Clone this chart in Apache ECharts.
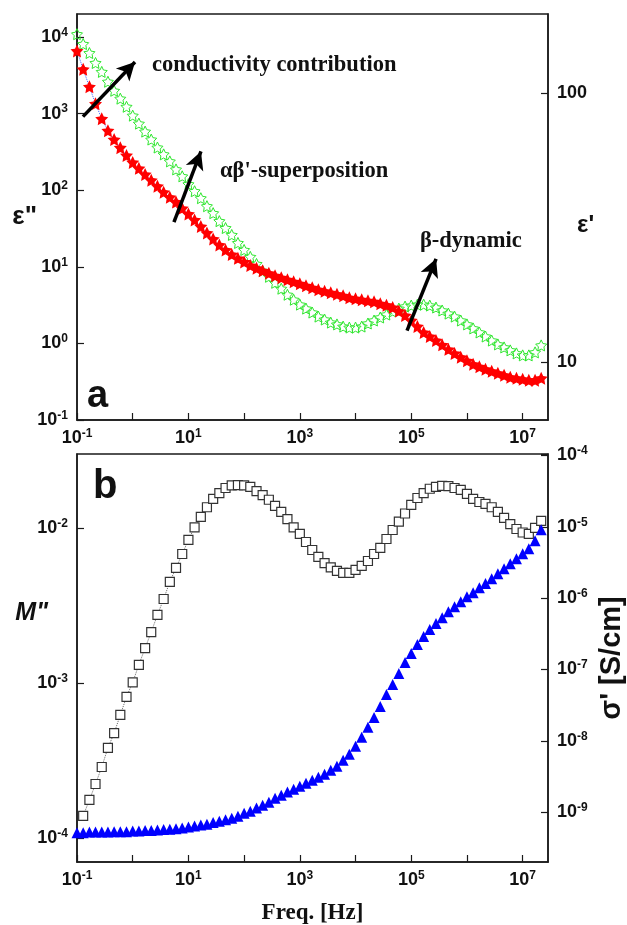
<!DOCTYPE html>
<html>
<head>
<meta charset="utf-8">
<script src="https://cdn.jsdelivr.net/npm/echarts@6/dist/echarts.min.js"></script>
<style>
  html, body { margin: 0; padding: 0; background: #fff; }
  #chart { width: 627px; height: 925px; }
</style>
</head>
<body>
<div id="chart"></div>
<script>
// measured frequencies [Hz]
const freq = [
  0.1, 0.129, 0.167, 0.215, 0.278, 0.359, 0.464, 0.599, 0.774,
  1, 1.29, 1.67, 2.15, 2.78, 3.59, 4.64, 5.99, 7.74,
  10, 12.9, 16.7, 21.5, 27.8, 35.9, 46.4, 59.9, 77.4,
  100, 129, 167, 215, 278, 359, 464, 599, 774,
  1e3, 1.29e3, 1.67e3, 2.15e3, 2.78e3, 3.59e3, 4.64e3, 5.99e3, 7.74e3,
  1e4, 1.29e4, 1.67e4, 2.15e4, 2.78e4, 3.59e4, 4.64e4, 5.99e4, 7.74e4,
  1e5, 1.29e5, 1.67e5, 2.15e5, 2.78e5, 3.59e5, 4.64e5, 5.99e5, 7.74e5,
  1e6, 1.29e6, 1.67e6, 2.15e6, 2.78e6, 3.59e6, 4.64e6, 5.99e6, 7.74e6,
  1e7, 1.29e7, 1.67e7, 2.15e7
]

// panel a: red filled stars
const epsRed = [
  6600, 3800, 2240, 1350, 860, 600, 460, 360, 285,
  231, 193, 161, 135, 113, 94, 81, 70, 58,
  49, 41, 33.6, 27.7, 23.1, 19.3, 16.6, 14.5, 12.9,
  11.6, 10.4, 9.6, 8.87, 8.24, 7.64, 7.19, 6.78, 6.38,
  6.01, 5.66, 5.33, 5.02, 4.81, 4.59, 4.40, 4.20, 3.95,
  3.84, 3.72, 3.61, 3.51, 3.30, 3.16, 2.94, 2.64, 2.31,
  1.99, 1.66, 1.39, 1.23, 1.09, 0.957, 0.836, 0.741, 0.658,
  0.593, 0.533, 0.495, 0.459, 0.433, 0.407, 0.384, 0.361, 0.351,
  0.340, 0.330, 0.330, 0.351
]

// panel a: green open stars
const epsGreen = [
  10900, 8110, 6190, 4590, 3510, 2610, 1990, 1570, 1230,
  942, 741, 583, 459, 361, 294, 238, 187, 152,
  120, 97, 78.7, 61.9, 50.2, 39.5, 32.1, 26.1, 20.5,
  16.6, 13.5, 10.9, 8.87, 7.41, 6.19, 5.18, 4.32, 3.72,
  3.21, 2.85, 2.53, 2.24, 2.05, 1.87, 1.77, 1.66, 1.61,
  1.61, 1.66, 1.82, 1.99, 2.18, 2.38, 2.61, 2.85, 3.03,
  3.12, 3.21, 3.21, 3.12, 2.94, 2.69, 2.45, 2.24, 1.99,
  1.77, 1.57, 1.39, 1.23, 1.09, 0.97, 0.887, 0.811, 0.741,
  0.698, 0.698, 0.764, 0.942
]

// panel b: M'' open squares
const mod2 = [
  null, 1.39e-4, 1.76e-4, 2.23e-4, 2.87e-4, 3.81e-4, 4.75e-4, 6.22e-4, 8.13e-4,
  1.01e-3, 1.31e-3, 1.68e-3, 2.13e-3, 2.75e-3, 3.48e-3, 4.49e-3, 5.52e-3, 6.79e-3,
  8.37e-3, 1.01e-2, 1.18e-2, 1.36e-2, 1.54e-2, 1.68e-2, 1.81e-2, 1.88e-2, 1.89e-2,
  1.88e-2, 1.84e-2, 1.73e-2, 1.63e-2, 1.52e-2, 1.39e-2, 1.27e-2, 1.14e-2, 1.01e-2,
  9.15e-3, 8.12e-3, 7.21e-3, 6.50e-3, 5.94e-3, 5.57e-3, 5.28e-3, 5.13e-3, 5.13e-3,
  5.36e-3, 5.69e-3, 6.12e-3, 6.79e-3, 7.43e-3, 8.49e-3, 9.70e-3, 1.10e-2, 1.24e-2,
  1.41e-2, 1.56e-2, 1.68e-2, 1.79e-2, 1.84e-2, 1.87e-2, 1.86e-2, 1.81e-2, 1.76e-2,
  1.66e-2, 1.54e-2, 1.47e-2, 1.43e-2, 1.36e-2, 1.27e-2, 1.16e-2, 1.06e-2, 9.85e-3,
  9.35e-3, 9.15e-3, 1.00e-2, 1.11e-2
]

// panel b: sigma' blue triangles [S/cm]
const sigma = [
  5.16e-10, 5.16e-10, 5.25e-10, 5.25e-10, 5.25e-10, 5.25e-10, 5.33e-10, 5.33e-10, 5.33e-10,
  5.42e-10, 5.42e-10, 5.51e-10, 5.51e-10, 5.60e-10, 5.69e-10, 5.78e-10, 5.87e-10, 5.97e-10,
  6.17e-10, 6.37e-10, 6.58e-10, 6.79e-10, 7.13e-10, 7.48e-10, 7.85e-10, 8.24e-10, 8.79e-10,
  9.68e-10, 1.03e-9, 1.14e-9, 1.25e-9, 1.38e-9, 1.57e-9, 1.73e-9, 1.91e-9, 2.10e-9,
  2.31e-9, 2.55e-9, 2.81e-9, 3.09e-9, 3.40e-9, 3.86e-9, 4.40e-9, 5.33e-9, 6.47e-9,
  8.38e-9, 1.12e-8, 1.55e-8, 2.13e-8, 3.04e-8, 4.47e-8, 6.17e-8, 8.79e-8, 1.25e-7,
  1.67e-7, 2.24e-7, 2.90e-7, 3.63e-7, 4.40e-7, 5.33e-7, 6.47e-7, 7.60e-7, 8.93e-7,
  1.05e-6, 1.19e-6, 1.40e-6, 1.60e-6, 1.87e-6, 2.20e-6, 2.59e-6, 3.04e-6, 3.57e-6,
  4.19e-6, 4.92e-6, 6.37e-6, 9.08e-6
]

// arrows in panel a, [freq, eps''] tail -> head
const arrows = [
  [[0.128, 914], [1.10, 4730]],
  [[5.5, 38.4], [16.8, 321]],
  [[8.4e4, 1.47], [2.79e5, 12.7]],
]

const SANS = '"Liberation Sans", Arial, sans-serif'
const SERIF = '"Liberation Serif", "Times New Roman", serif'
const STAR = 'path://M0,-10L2.94,-4.05L9.51,-3.09L4.76,1.55L5.88,8.09L0,5L-5.88,8.09L-4.76,1.55L-9.51,-3.09L-2.94,-4.05Z'

const pairs = (ys) => freq.map((f, i) => [f, ys[i]])

const rich = {
  b: { fontSize: 18, fontWeight: 'bold', fontFamily: SANS, color: '#111' },
  s: { fontSize: 12, fontWeight: 'bold', fontFamily: SANS, color: '#111', padding: [0, 0, 9, 0] },
}

function powLabel(step) {
  return (v) => {
    const e = Math.log10(v)
    const r = Math.round(e)
    if (Math.abs(e - r) > 0.02) return ''
    if (step === 2 && Math.abs(r) % 2 === 0) return ''
    return '{b|10}{s|' + r + '}'
  }
}

function plainLabel(v) {
  const e = Math.log10(v)
  if (Math.abs(e - Math.round(e)) > 0.02) return ''
  return String(Math.round(v))
}

const frame = { show: true, lineStyle: { color: '#1a1a1a', width: 1.5 } }
const tick = { show: true, inside: true, length: 7, lineStyle: { color: '#1a1a1a', width: 1.2 } }

function xAxis(gridIndex, withName) {
  return {
    type: 'log', gridIndex, min: 0.1, max: 2.85e7,
    axisLine: frame, axisTick: tick, splitLine: { show: false },
    axisLabel: { formatter: powLabel(2), rich, margin: 8, showMaxLabel: false },
    name: withName ? 'Freq. [Hz]' : '',
    nameLocation: 'middle', nameGap: 40, nameMoveOverlap: false,
    nameTextStyle: { fontFamily: SERIF, fontWeight: 'bold', fontSize: 23, color: '#111' },
  }
}

function yAxis(gridIndex, opts) {
  return Object.assign({
    type: 'log', gridIndex,
    axisLine: frame, axisTick: tick, splitLine: { show: false },
    axisLabel: { formatter: powLabel(1), rich, margin: 9, showMaxLabel: false, showMinLabel: false },
    nameLocation: 'middle', nameRotate: 0, nameMoveOverlap: false,
    nameTextStyle: { fontFamily: SANS, fontWeight: 'bold', fontSize: 24, color: '#111' },
  }, opts)
}

const chart = echarts.init(document.getElementById('chart'), null, { renderer: 'canvas' })

chart.setOption({
  animation: false,
  backgroundColor: '#fff',
  grid: [
    { left: 77, top: 14, width: 471, height: 406, show: true, borderColor: '#1a1a1a', borderWidth: 1.5,
      outerBoundsMode: 'none', containLabel: false },
    { left: 77, top: 454, width: 471, height: 408, show: true, borderColor: '#1a1a1a', borderWidth: 1.5,
      outerBoundsMode: 'none', containLabel: false },
  ],
  xAxis: [xAxis(0, false), xAxis(1, true)],
  yAxis: [
    yAxis(0, { min: 0.1, max: 2e4, name: 'ε"', nameGap: 40,
      nameTextStyle: { fontFamily: SANS, fontWeight: 'bold', fontSize: 26, color: '#111' },
      axisLabel: { formatter: powLabel(1), rich, margin: 9, showMaxLabel: false, showMinLabel: true } }),
    yAxis(0, { position: 'right', min: 6.09, max: 196.7, name: "{n|ε'}", nameGap: 29,
      nameTextStyle: { rich: { n: { fontFamily: SANS, fontWeight: 'bold', fontSize: 24, color: '#111', padding: [16, 0, 0, 0] } } },
      axisLabel: { formatter: plainLabel, margin: 9, fontSize: 18, fontWeight: 'bold', fontFamily: SANS, color: '#111',
        showMaxLabel: false, showMinLabel: false } }),
    yAxis(1, { min: 7.0e-5, max: 0.030, name: '{n|M"}', nameGap: 29,
      nameTextStyle: { rich: { n: { fontFamily: SANS, fontWeight: 'bold', fontStyle: 'italic', fontSize: 25, color: '#111',
        padding: [0, 0, 90, 0] } } } }),
    yAxis(1, { position: 'right', min: 2.0e-10, max: 1.05e-4, name: "σ' [S/cm]", nameGap: 49, nameRotate: 90,
      nameTextStyle: { fontFamily: SANS, fontWeight: 'bold', fontSize: 29, color: '#111' },
      axisLabel: { formatter: powLabel(1), rich, margin: 9, showMaxLabel: true, showMinLabel: false } }),
  ],
  series: [
    {
      type: 'line', xAxisIndex: 0, yAxisIndex: 0, data: pairs(epsGreen),
      symbol: STAR, symbolSize: 11,
      itemStyle: { color: 'rgba(255,255,255,0)', borderColor: '#2ee62e', borderWidth: 1 },
      lineStyle: { width: 0, opacity: 0 },
    },
    {
      type: 'line', xAxisIndex: 0, yAxisIndex: 0, data: pairs(epsRed),
      symbol: STAR, symbolSize: 13,
      itemStyle: { color: '#ff0000' },
      lineStyle: { color: '#3a5cff', width: 1, type: 'dotted' },
      markLine: {
        silent: true, animation: false,
        symbol: ['none', 'arrow'], symbolSize: [14, 18],
        lineStyle: { color: '#000', width: 3.5, type: 'solid' },
        label: { show: false },
        data: arrows.map(([a, b]) => [{ coord: a }, { coord: b }]),
      },
    },
    {
      type: 'line', xAxisIndex: 1, yAxisIndex: 2, data: pairs(mod2),
      symbol: 'rect', symbolSize: 9,
      itemStyle: { color: '#fff', borderColor: '#333', borderWidth: 1.2 },
      lineStyle: { color: '#666', width: 1, type: 'dotted' },
    },
    {
      type: 'line', xAxisIndex: 1, yAxisIndex: 3, data: pairs(sigma),
      symbol: 'triangle', symbolSize: 11,
      itemStyle: { color: '#0000ff' },
      lineStyle: { width: 0, opacity: 0 },
    },
  ],
  graphic: [
    { type: 'text', left: 152, top: 54, style: { text: 'conductivity contribution', font: 'bold 22.5px ' + SERIF, fill: '#111' } },
    { type: 'text', left: 220, top: 160, style: { text: "αβ'-superposition", font: 'bold 22.5px ' + SERIF, fill: '#111' } },
    { type: 'text', left: 420, top: 230, style: { text: 'β-dynamic', font: 'bold 22.5px ' + SERIF, fill: '#111' } },
    { type: 'text', left: 87, top: 378, style: { text: 'a', font: 'bold 38px ' + SANS, fill: '#111' } },
    { type: 'text', left: 93, top: 467, style: { text: 'b', font: 'bold 40px ' + SANS, fill: '#111' } },
  ],
})
</script>
</body>
</html>
